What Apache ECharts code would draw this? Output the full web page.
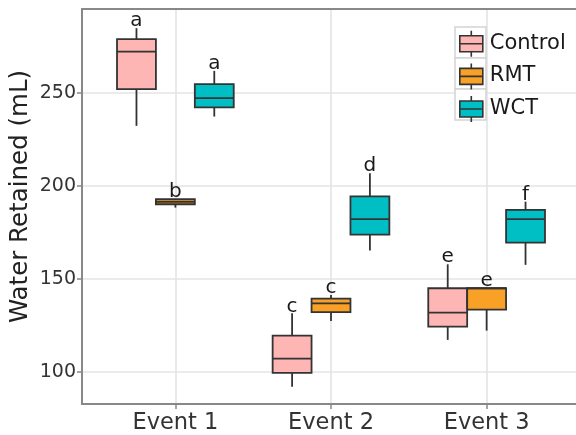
<!DOCTYPE html>
<html>
<head>
<meta charset="utf-8">
<script src="https://cdn.jsdelivr.net/npm/echarts@6/dist/echarts.min.js"></script>
<style>
  html, body { margin: 0; padding: 0; background: #fff; }
  #chart { width: 576px; height: 435px; }
</style>
</head>
<body>
<div id="chart"></div>
<script>
// Water retained per storm event, summarised as box plots.
const events = ['Event 1', 'Event 2', 'Event 3'];
const groups = ['Control', 'RMT', 'WCT'];

// Five-number summaries per event: [min, Q1, median, Q3, max] (mL)
const controlBoxes = [
  [232.3, 252.1, 272.3, 279.0, 284.9],
  [91.9, 99.3, 107.0, 119.4, 131.4],
  [117.1, 124.2, 131.8, 144.9, 157.8]
];
const rmtBoxes = [
  [188.3, 190.1, 191.4, 192.8, 192.8],
  [127.3, 132.0, 136.8, 139.3, 141.3],
  [122.1, 133.4, 144.9, 144.9, 144.9]
];
const wctBoxes = [
  [237.3, 242.2, 247.2, 254.8, 261.9],
  [165.2, 173.8, 182.1, 194.4, 206.8],
  [157.5, 169.5, 182.1, 187.1, 191.5]
];

// Significance letters shown above each box
const controlLetters = ['a', 'c', 'e'];
const rmtLetters = ['b', 'c', 'e'];
const wctLetters = ['a', 'd', 'f'];

const yTicks = [100, 150, 200, 250];

const FONT = 'DejaVu Sans';
const colors = ['#FDB6B4', '#F9A126', '#00BFC4'];
const EDGE = '#333333';
const FRAME = '#888888';
const GRID_LINE = '#e4e4e4';
const BOX_W = 0.25;              // box width in category units
const DODGE = [-0.25, 0, 0.25];  // group offsets within an event
const X_MIN = 0.4, X_MAX = 3.6;
const Y_MIN = 82.6, Y_MAX = 295.2;

const positions = events.map((_, i) => i + 1);

function makeSeries(name, boxes, letters, gi) {
  return {
    name: name,
    type: 'custom',
    z: 2,
    xAxisIndex: 0,
    itemStyle: { color: colors[gi], borderColor: EDGE },
    encode: { x: 0, y: [1, 2, 3, 4, 5] },
    data: boxes.map((b, i) => [positions[i]].concat(b)),
    renderItem: function (params, api) {
      const xc = api.value(0) + DODGE[gi];
      const xl = api.coord([xc - BOX_W / 2, 0])[0];
      const xr = api.coord([xc + BOX_W / 2, 0])[0];
      const xm = api.coord([xc, 0])[0];
      const yMin = api.coord([xc, api.value(1)])[1];
      const yQ1 = api.coord([xc, api.value(2)])[1];
      const yMed = api.coord([xc, api.value(3)])[1];
      const yQ3 = api.coord([xc, api.value(4)])[1];
      const yMax = api.coord([xc, api.value(5)])[1];
      const lineStyle = { stroke: EDGE, lineWidth: 1.8 };
      return {
        type: 'group',
        children: [
          { type: 'line', shape: { x1: xm, y1: yMax, x2: xm, y2: yQ3 }, style: lineStyle },
          { type: 'line', shape: { x1: xm, y1: yQ1, x2: xm, y2: yMin }, style: lineStyle },
          {
            type: 'rect',
            shape: { x: xl, y: yQ3, width: xr - xl, height: yQ1 - yQ3 },
            style: { fill: colors[gi], stroke: EDGE, lineWidth: 1.8 }
          },
          { type: 'line', shape: { x1: xl, y1: yMed, x2: xr, y2: yMed }, style: lineStyle },
          {
            type: 'text',
            x: xm,
            y: yMax + 3,
            style: {
              text: letters[params.dataIndex],
              align: 'center',
              verticalAlign: 'bottom',
              fontFamily: FONT,
              fontSize: 20,
              fill: '#1a1a1a'
            }
          }
        ]
      };
    }
  };
}

// Legend key: a small box plot glyph inside a square key cell
const KEY = 31;
const KEY_ICON = 'path://M0 0M31 31M4 8H27V24H4Z M4 16H27 M15.5 3V8 M15.5 24V29';
const LEGEND_LEFT = 455;
const LEGEND_TOP = 27;

const chart = echarts.init(document.getElementById('chart'), null, { renderer: 'canvas' });

chart.setOption({
  animation: false,
  backgroundColor: '#ffffff',
  grid: {
    left: 82, top: 9, width: 498, height: 395,
    show: false,
    containLabel: false,
    outerBoundsMode: 'none'
  },
  xAxis: [
    {
      type: 'value',
      min: X_MIN,
      max: X_MAX,
      axisLine: { show: true, onZero: false, lineStyle: { color: FRAME, width: 2 } },
      axisTick: { show: true, customValues: positions, length: 5, lineStyle: { color: FRAME, width: 1.5 } },
      axisLabel: {
        customValues: positions,
        formatter: v => events[Math.round(v) - 1],
        fontFamily: FONT, fontSize: 22.5, color: '#333333', margin: 8
      },
      splitLine: { show: true, lineStyle: { color: GRID_LINE, width: 1.6 } }
    },
    {
      // top edge of the panel frame
      type: 'value',
      position: 'top',
      min: X_MIN,
      max: X_MAX,
      axisLine: { show: true, onZero: false, lineStyle: { color: FRAME, width: 2 } },
      axisTick: { show: false },
      axisLabel: { show: false },
      splitLine: { show: false }
    }
  ],
  yAxis: {
    type: 'value',
    min: Y_MIN,
    max: Y_MAX,
    name: 'Water Retained (mL)',
    nameLocation: 'middle',
    nameGap: 49,
    nameMoveOverlap: false,
    nameTextStyle: { fontFamily: FONT, fontSize: 24.5, color: '#222222', padding: [0, 0, 0, 20] },
    axisLine: { show: true, onZero: false, lineStyle: { color: FRAME, width: 2 } },
    axisTick: { show: true, customValues: yTicks, length: 5, lineStyle: { color: FRAME, width: 1.5 } },
    axisLabel: {
      customValues: yTicks,
      fontFamily: FONT, fontSize: 19, color: '#333333', margin: 6
    },
    splitLine: { show: true, lineStyle: { color: GRID_LINE, width: 1.6 } }
  },
  legend: {
    orient: 'vertical',
    left: LEGEND_LEFT,
    top: LEGEND_TOP,
    padding: 0,
    itemWidth: KEY,
    itemHeight: KEY,
    itemGap: 0,
    z: 4,
    textStyle: { fontFamily: FONT, fontSize: 21, color: '#1a1a1a', padding: [4, 0, 0, -2] },
    data: groups.map((g, i) => ({
      name: g,
      icon: KEY_ICON,
      itemStyle: { color: colors[i], borderColor: EDGE, borderWidth: 1.6 }
    }))
  },
  graphic: groups.map((g, i) => ({
    type: 'rect',
    z: 3,
    shape: { x: LEGEND_LEFT, y: LEGEND_TOP + i * KEY, width: KEY, height: KEY },
    style: { fill: '#ffffff', stroke: '#d3d3d3', lineWidth: 1.5 }
  })),
  series: [
    makeSeries('Control', controlBoxes, controlLetters, 0),
    makeSeries('RMT', rmtBoxes, rmtLetters, 1),
    makeSeries('WCT', wctBoxes, wctLetters, 2)
  ]
});
</script>
</body>
</html>
